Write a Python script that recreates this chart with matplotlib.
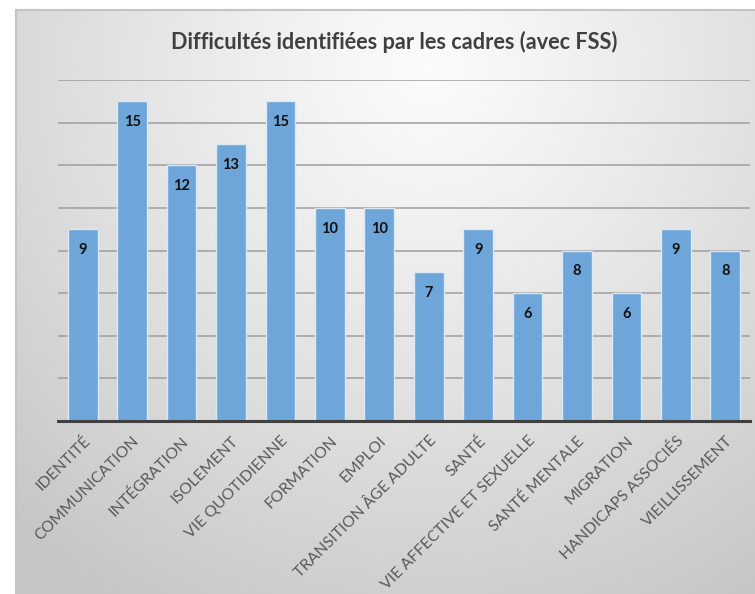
import numpy as np
import matplotlib
matplotlib.use("Agg")
import matplotlib.pyplot as plt
import matplotlib.transforms as mtrans

categories = ["IDENTITÉ", "COMMUNICATION", "INTÉGRATION", "ISOLEMENT", "VIE QUOTIDIENNE",
              "FORMATION", "EMPLOI", "TRANSITION ÂGE ADULTE", "SANTÉ",
              "VIE AFFECTIVE ET SEXUELLE", "SANTÉ MENTALE", "MIGRATION",
              "HANDICAPS ASSOCIÉS", "VIEILLISSEMENT"]
values = [9, 15, 12, 13, 15, 10, 10, 7, 9, 6, 8, 6, 9, 8]
title = "Difficultés identifiées par les cadres (avec FSS)"

W, H = 755, 594
fig = plt.figure(figsize=(W / 100, H / 100), dpi=100)
fig.patch.set_facecolor("white")

# background panel with radial gradient
x0, ytop = 16 / W, 1 - 10 / H
bg = fig.add_axes([x0, 0, 1 - x0 + 0.01, ytop])
ny, nx = 300, 400
yy, xx = np.mgrid[0:1:ny * 1j, 0:1:nx * 1j]
r = np.sqrt(((xx - 0.55) / 0.8) ** 2 + ((yy - 0.1) / 1.05) ** 2)
r = np.clip(r, 0, 1)
lo, hi = 0.985, 0.78
grad = lo + (hi - lo) * r ** 1.15
img = np.dstack([grad, grad, grad])
bg.imshow(img, aspect="auto", extent=[0, 1, 1, 0], interpolation="bicubic")
bg.set_xlim(0, 1)
bg.set_ylim(1, 0)
bg.set_axis_off()
fig.add_artist(plt.Line2D([x0, 1], [ytop, ytop], color="#c4c4c4", lw=1.5))
fig.add_artist(plt.Line2D([x0, x0], [0, ytop], color="#c4c4c4", lw=1.5))

ax = fig.add_axes([58 / W, 1 - 421 / H, (750 - 58) / W, (421 - 80) / H])
ax.patch.set_alpha(0)
x = np.arange(len(categories))
ax.bar(x, values, width=0.6, color="#6fa6da", edgecolor="#dbe8f6", linewidth=1.0, zorder=3)
ax.set_ylim(0, 16)
ax.set_xlim(-0.5, len(categories) - 0.5)
ax.set_yticks(np.arange(2, 17, 2))
ax.yaxis.grid(True, color="#9e9e9e", linewidth=1.1, zorder=0)
ax.tick_params(axis="y", length=0, labelleft=False)
ax.tick_params(axis="x", length=0, pad=2)
for s in ["top", "right", "left"]:
    ax.spines[s].set_visible(False)
ax.spines["bottom"].set_color("#404040")
ax.spines["bottom"].set_linewidth(2.2)
ax.spines["bottom"].set_zorder(4)

ax.set_xticks(x)
ax.set_xticklabels(categories, rotation=45, ha="right", va="top", rotation_mode="anchor",
                   fontsize=11.3, color="#595959", family="Lato")
for lbl in ax.get_xticklabels():
    lbl.set_transform(lbl.get_transform() + mtrans.ScaledTranslation(0 / 100, -10 / 100, fig.dpi_scale_trans))

for xi, v in zip(x, values):
    ax.annotate(str(v), (xi, v), xytext=(0, -15), textcoords="offset points",
                ha="center", va="center", fontsize=10.5, fontweight="bold",
                color="#111111", family="Lato", zorder=5)

fig.text(394 / W, 1 - 42 / H, title, ha="center", va="center", fontsize=15.6,
         fontweight="bold", color="#404040", family="Lato")

fig.savefig("out.png", dpi=100)
